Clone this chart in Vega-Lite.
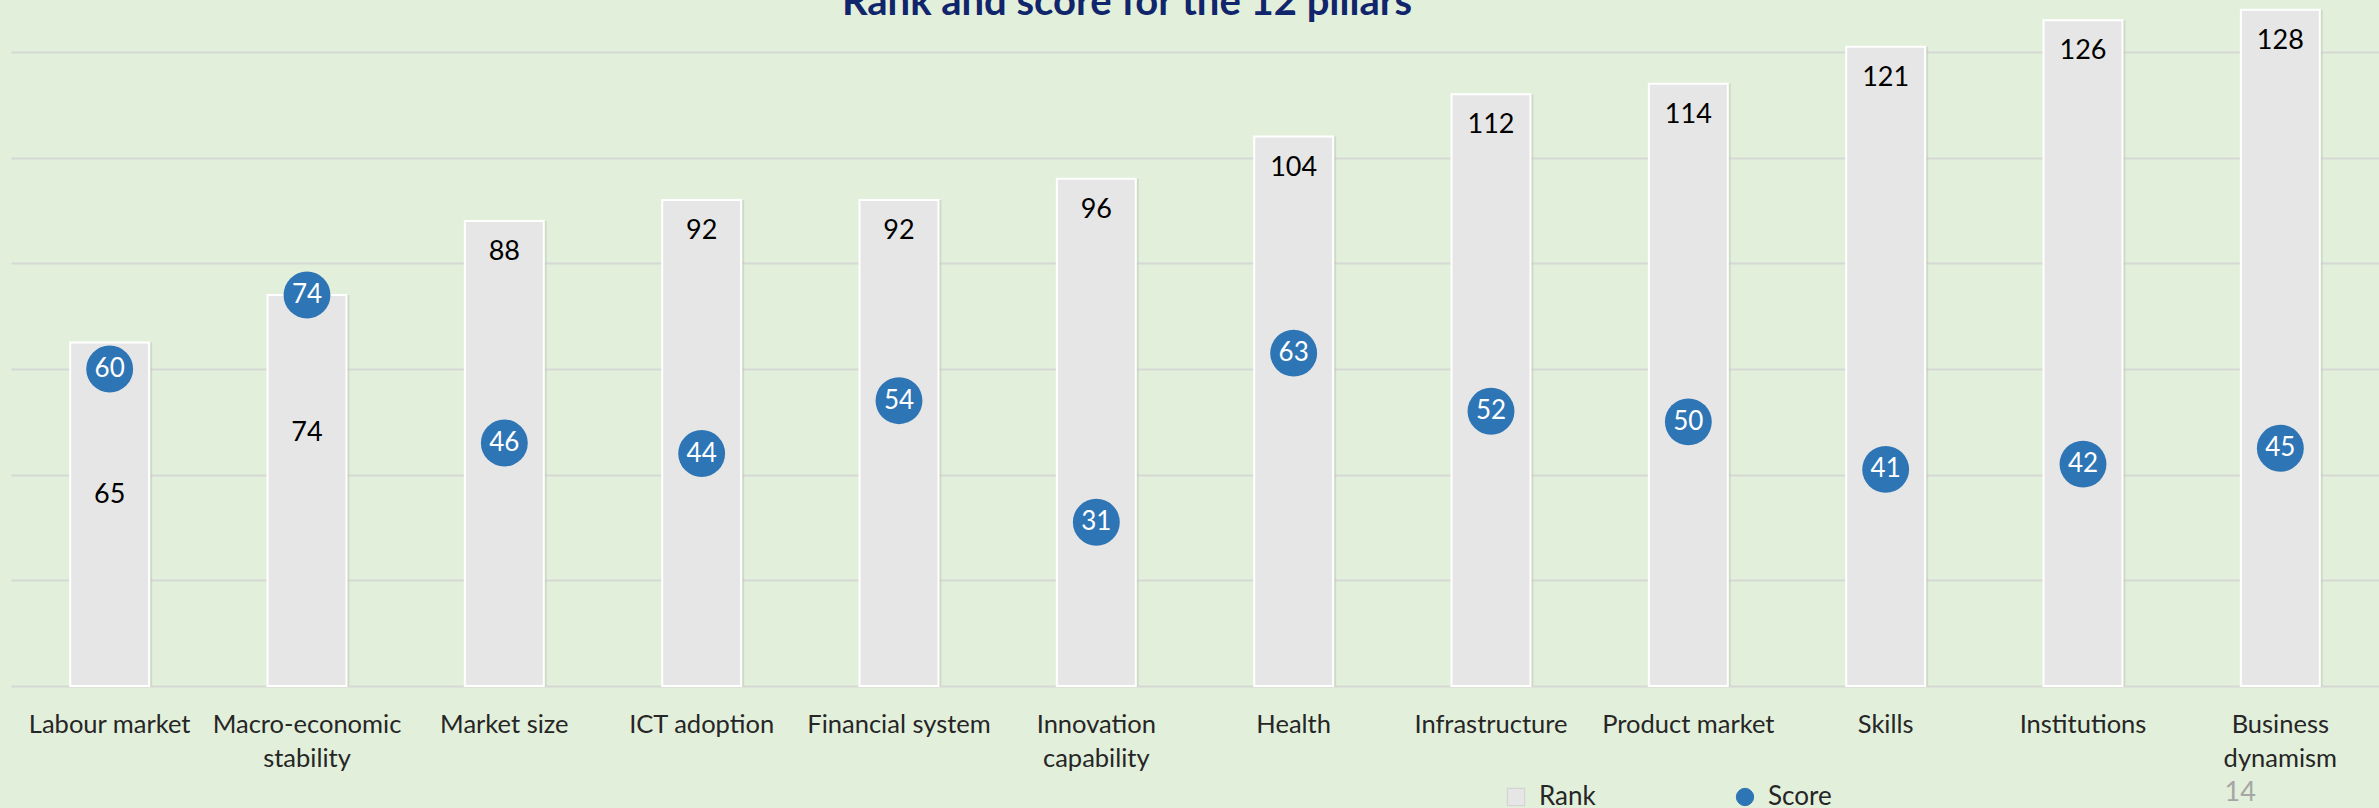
{
  "$schema": "https://vega.github.io/schema/vega-lite/v6.json",
  "width": 2368,
  "height": 634,
  "autosize": {"type": "none"},
  "padding": {"left": 11, "top": 52, "right": 0, "bottom": 122},
  "background": "#e2efda",
  "config": {
    "view": {"stroke": null},
    "font": "Lato"
  },
  "title": {
    "text": "Rank and score for the 12 pillars",
    "font": "Lato",
    "fontSize": 40,
    "fontWeight": "bold",
    "color": "#10256b",
    "anchor": "middle",
    "dx": -68,
    "offset": -14
  },
  "data": {
    "values": [
      {"pillar": "Labour market", "Rank": 65, "Score": 60},
      {"pillar": "Macro-economic stability", "Rank": 74, "Score": 74},
      {"pillar": "Market size", "Rank": 88, "Score": 46},
      {"pillar": "ICT adoption", "Rank": 92, "Score": 44},
      {"pillar": "Financial system", "Rank": 92, "Score": 54},
      {"pillar": "Innovation capability", "Rank": 96, "Score": 31},
      {"pillar": "Health", "Rank": 104, "Score": 63},
      {"pillar": "Infrastructure", "Rank": 112, "Score": 52},
      {"pillar": "Product market", "Rank": 114, "Score": 50},
      {"pillar": "Skills", "Rank": 121, "Score": 41},
      {"pillar": "Institutions", "Rank": 126, "Score": 42},
      {"pillar": "Business dynamism", "Rank": 128, "Score": 45}
    ]
  },
  "transform": [{"fold": ["Rank", "Score"], "as": ["key", "value"]}],
  "encoding": {
    "x": {
      "field": "pillar",
      "type": "nominal",
      "sort": null,
      "scale": {"paddingInner": 0.6, "paddingOuter": 0.3},
      "axis": {
        "title": "14",
        "titleColor": "#a6a6a6",
        "titleFont": "Lato",
        "titleFontSize": 27,
        "titleFontWeight": "normal",
        "titleAnchor": "start",
        "titleAlign": "left",
        "titleBaseline": "alphabetic",
        "titleX": 2213,
        "titleY": 114,
        "labelAngle": 0,
        "labelFontSize": 25.5,
        "labelColor": "#262626",
        "labelPadding": 26,
        "labelLineHeight": 34,
        "labelLimit": 400,
        "labelExpr": "length(datum.label) > 16 ? split(datum.label, ' ') : datum.label",
        "ticks": false,
        "tickSize": 0,
        "domain": false,
        "grid": false
      }
    },
    "y": {
      "field": "value",
      "type": "quantitative",
      "scale": {"domain": [0, 120], "nice": false},
      "axis": {
        "title": null,
        "labels": false,
        "ticks": false,
        "domain": false,
        "values": [0, 20, 40, 60, 80, 100, 120],
        "gridColor": "#d6d9d3",
        "gridWidth": 2
      }
    }
  },
  "layer": [
    {
      "transform": [{"filter": "datum.key == 'Rank'"}],
      "mark": {"type": "bar", "fill": "#b9c2b4", "opacity": 0.45, "xOffset": 3},
      "encoding": {}
    },
    {
      "transform": [{"filter": "datum.key == 'Rank'"}],
      "mark": {"type": "bar", "stroke": "#ffffff", "strokeWidth": 2},
      "encoding": {
        "color": {
          "field": "key",
          "type": "nominal",
          "scale": {"domain": ["Rank", "Score"], "range": ["#e6e6e6", "#2e75b6"]},
          "legend": {
            "title": null,
            "orient": "none",
            "legendX": 1492,
            "legendY": 732,
            "direction": "horizontal",
            "columnPadding": 136,
            "labelFont": "Lato",
            "labelFontSize": 26,
            "labelColor": "#262626",
            "labelOffset": 10,
            "symbolSize": 300,
            "symbolStrokeWidth": 1,
            "symbolStrokeColor": "#d0d0d0",
            "encode": {
              "symbols": {
                "update": {
                  "shape": {"signal": "datum.value == 'Rank' ? 'square' : 'circle'"},
                  "stroke": {"signal": "datum.value == 'Rank' ? '#d0d0d0' : '#2e75b6'"}
                }
              }
            }
          }
        }
      }
    },
    {
      "transform": [{"filter": "datum.key == 'Rank' && datum.value > 80"}],
      "mark": {"type": "text", "baseline": "middle", "dy": 31, "fontSize": 27, "color": "#000000"},
      "encoding": {"text": {"field": "value", "type": "quantitative"}}
    },
    {
      "transform": [{"filter": "datum.key == 'Rank' && datum.pillar == 'Labour market'"}],
      "mark": {"type": "text", "baseline": "middle", "dy": 152, "fontSize": 27, "color": "#000000"},
      "encoding": {"text": {"field": "value", "type": "quantitative"}}
    },
    {
      "transform": [{"filter": "datum.key == 'Rank' && datum.pillar == 'Macro-economic stability'"}],
      "mark": {"type": "text", "baseline": "middle", "dy": 138, "fontSize": 27, "color": "#000000"},
      "encoding": {"text": {"field": "value", "type": "quantitative"}}
    },
    {
      "transform": [{"filter": "datum.key == 'Score'"}],
      "mark": {"type": "circle", "size": 2200, "opacity": 1},
      "encoding": {
        "color": {"field": "key", "type": "nominal"}
      }
    },
    {
      "transform": [{"filter": "datum.key == 'Score'"}],
      "mark": {"type": "text", "baseline": "middle", "fontSize": 26, "color": "#ffffff"},
      "encoding": {"text": {"field": "value", "type": "quantitative"}}
    }
  ]
}
